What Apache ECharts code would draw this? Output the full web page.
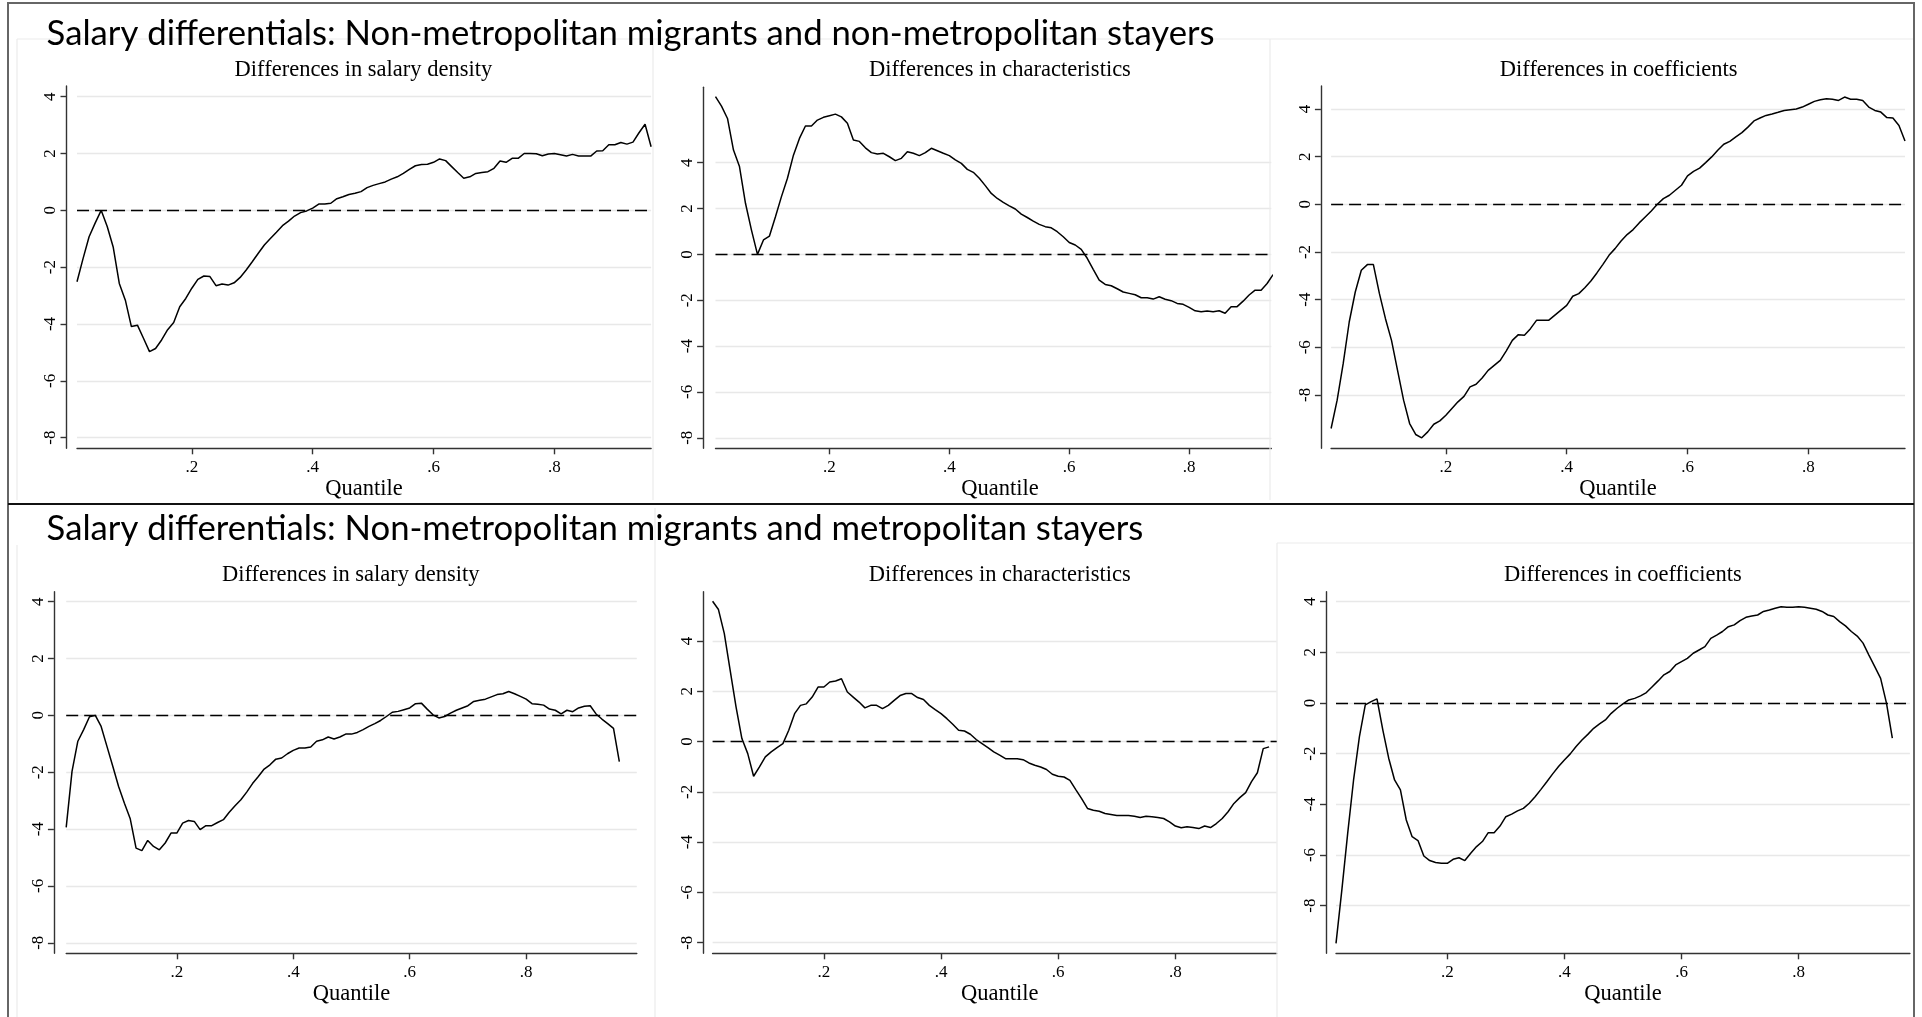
<!DOCTYPE html>
<html><head><meta charset="utf-8">
<script src="https://cdn.jsdelivr.net/npm/echarts@6/dist/echarts.min.js"></script>
<style>html,body{margin:0;padding:0;background:#fff;overflow:hidden}#c{width:1922px;height:1017px}</style>
</head><body><div id="c"></div>
<script>
// ---------- data ----------
const quantiles = [0.01,0.02,0.03,0.04,0.05,0.06,0.07,0.08,0.09,0.10,
0.11,0.12,0.13,0.14,0.15,0.16,0.17,0.18,0.19,0.20,
0.21,0.22,0.23,0.24,0.25,0.26,0.27,0.28,0.29,0.30,
0.31,0.32,0.33,0.34,0.35,0.36,0.37,0.38,0.39,0.40,
0.41,0.42,0.43,0.44,0.45,0.46,0.47,0.48,0.49,0.50,
0.51,0.52,0.53,0.54,0.55,0.56,0.57,0.58,0.59,0.60,
0.61,0.62,0.63,0.64,0.65,0.66,0.67,0.68,0.69,0.70,
0.71,0.72,0.73,0.74,0.75,0.76,0.77,0.78,0.79,0.80,
0.81,0.82,0.83,0.84,0.85,0.86,0.87,0.88,0.89,0.90,
0.91,0.92,0.93,0.94,0.95,0.96];

const xTickValues = [0.2, 0.4, 0.6, 0.8];
const xTickLabels = ['.2', '.4', '.6', '.8'];
const yTickValues = [-8, -6, -4, -2, 0, 2, 4];
const yTickLabels = ['-8', '-6', '-4', '-2', '0', '2', '4'];
const referenceLine = 0;

const mainTitles = [
  'Salary differentials: Non-metropolitan migrants and non-metropolitan stayers',
  'Salary differentials: Non-metropolitan migrants and metropolitan stayers'
];
const panelTitles = ['Differences in salary density', 'Differences in characteristics', 'Differences in coefficients'];
const xAxisTitle = 'Quantile';

// Top row: non-metropolitan migrants vs non-metropolitan stayers
const nonMetroDensity = [-2.51,-1.7,-0.93,-0.45,0.0,-0.57,-1.3,-2.57,-3.16,-4.09,
-4.04,-4.5,-4.97,-4.86,-4.56,-4.2,-3.95,-3.39,-3.1,-2.74,
-2.43,-2.31,-2.33,-2.65,-2.59,-2.63,-2.55,-2.36,-2.1,-1.81,
-1.51,-1.22,-0.99,-0.77,-0.54,-0.38,-0.2,-0.08,-0.02,0.08,
0.22,0.22,0.25,0.41,0.48,0.56,0.6,0.66,0.8,0.88,
0.94,1.0,1.1,1.18,1.3,1.44,1.57,1.61,1.62,1.69,
1.81,1.75,1.54,1.33,1.13,1.18,1.3,1.33,1.36,1.48,
1.74,1.69,1.83,1.83,2.0,2.0,1.99,1.92,1.98,2.0,
1.96,1.91,1.97,1.91,1.91,1.91,2.09,2.1,2.31,2.31,
2.39,2.33,2.4,2.73,3.03,2.24];
const nonMetroCharacteristics = [6.88,6.47,5.93,4.55,3.83,2.23,1.06,0.0,0.63,0.8,
1.64,2.52,3.32,4.33,5.06,5.6,5.6,5.86,5.98,6.05,
6.12,6.0,5.72,4.99,4.93,4.65,4.44,4.38,4.41,4.26,
4.09,4.19,4.48,4.41,4.31,4.44,4.63,4.52,4.41,4.31,
4.12,3.97,3.71,3.58,3.32,3.0,2.66,2.44,2.27,2.12,
1.98,1.76,1.61,1.45,1.31,1.21,1.16,0.99,0.77,0.52,
0.41,0.22,-0.17,-0.65,-1.12,-1.31,-1.37,-1.5,-1.64,-1.7,
-1.76,-1.89,-1.89,-1.95,-1.85,-1.96,-2.02,-2.14,-2.18,-2.31,
-2.46,-2.5,-2.47,-2.5,-2.46,-2.57,-2.28,-2.28,-2.04,-1.77,
-1.56,-1.56,-1.27,-0.88];
const nonMetroCoefficients = [-9.41,-8.22,-6.69,-4.94,-3.68,-2.77,-2.53,-2.53,-3.75,-4.8,
-5.71,-6.97,-8.22,-9.2,-9.66,-9.8,-9.55,-9.23,-9.09,-8.85,
-8.57,-8.29,-8.06,-7.66,-7.55,-7.29,-6.97,-6.76,-6.55,-6.15,
-5.71,-5.47,-5.5,-5.22,-4.87,-4.87,-4.87,-4.66,-4.45,-4.24,
-3.86,-3.75,-3.5,-3.22,-2.88,-2.52,-2.14,-1.86,-1.54,-1.27,
-1.06,-0.78,-0.53,-0.28,0.0,0.24,0.38,0.59,0.8,1.19,
1.38,1.52,1.75,1.99,2.27,2.52,2.64,2.83,3.01,3.24,
3.5,3.62,3.73,3.79,3.86,3.94,3.97,4.0,4.08,4.2,
4.32,4.39,4.43,4.41,4.36,4.5,4.41,4.41,4.36,4.08,
3.94,3.87,3.64,3.62,3.31,2.66];

// Bottom row: non-metropolitan migrants vs metropolitan stayers
const metroDensity = [-3.94,-1.97,-0.91,-0.5,-0.05,0.0,-0.39,-1.09,-1.79,-2.5,
-3.09,-3.64,-4.67,-4.76,-4.4,-4.61,-4.73,-4.49,-4.14,-4.14,
-3.79,-3.7,-3.73,-4.02,-3.88,-3.88,-3.77,-3.67,-3.41,-3.18,
-2.97,-2.7,-2.4,-2.15,-1.89,-1.74,-1.54,-1.5,-1.35,-1.23,
-1.15,-1.15,-1.11,-0.91,-0.86,-0.76,-0.83,-0.76,-0.66,-0.66,
-0.6,-0.5,-0.39,-0.29,-0.18,-0.04,0.11,0.14,0.2,0.26,
0.41,0.43,0.22,0.02,-0.09,-0.04,0.08,0.18,0.26,0.34,
0.49,0.53,0.57,0.65,0.73,0.76,0.84,0.76,0.67,0.57,
0.41,0.39,0.36,0.22,0.18,0.05,0.18,0.13,0.26,0.32,
0.34,0.05,-0.13,-0.29,-0.46,-1.63];
const metroCharacteristics = [5.58,5.25,4.29,2.83,1.38,0.12,-0.48,-1.38,-1.01,-0.61,
-0.41,-0.24,-0.08,0.45,1.11,1.44,1.5,1.77,2.17,2.17,
2.37,2.41,2.5,1.97,1.77,1.57,1.34,1.44,1.44,1.31,
1.44,1.64,1.83,1.91,1.91,1.75,1.67,1.44,1.27,1.11,
0.91,0.69,0.45,0.42,0.29,0.08,-0.08,-0.24,-0.41,-0.54,
-0.68,-0.68,-0.68,-0.72,-0.85,-0.94,-1.01,-1.11,-1.3,-1.38,
-1.41,-1.54,-1.91,-2.27,-2.66,-2.73,-2.77,-2.86,-2.9,-2.94,
-2.94,-2.94,-2.97,-3.02,-2.97,-2.99,-3.02,-3.06,-3.19,-3.36,
-3.43,-3.39,-3.42,-3.46,-3.36,-3.42,-3.26,-3.06,-2.79,-2.46,
-2.23,-2.03,-1.59,-1.24,-0.28,-0.21];
const metroCoefficients = [-9.49,-7.38,-5.14,-3.04,-1.33,-0.08,0.05,0.16,-1.07,-2.18,
-3.04,-3.43,-4.62,-5.28,-5.43,-6.04,-6.22,-6.3,-6.33,-6.33,
-6.17,-6.11,-6.22,-5.93,-5.67,-5.47,-5.12,-5.12,-4.86,-4.49,
-4.39,-4.26,-4.16,-3.96,-3.7,-3.41,-3.11,-2.8,-2.51,-2.25,
-2.01,-1.72,-1.46,-1.24,-1.0,-0.83,-0.67,-0.41,-0.21,-0.04,
0.12,0.18,0.28,0.41,0.64,0.87,1.11,1.24,1.5,1.63,
1.76,1.96,2.09,2.22,2.55,2.68,2.82,3.01,3.08,3.25,
3.38,3.43,3.47,3.61,3.67,3.74,3.8,3.78,3.78,3.8,
3.78,3.74,3.7,3.61,3.47,3.41,3.21,3.04,2.82,2.64,
2.36,1.89,1.43,0.97,-0.01,-1.39];

// ---------- layout (pixels / axis extents) ----------
const panels = [
  {values: nonMetroDensity,         title: 0, left: 77.0,   top: 86.0,  width: 574.1, height: 362.3, xMin: 0.01, xMax: 0.96,  yMin: -8.373, yMax: 4.376, yOffset: 10.5, titleX: 363.4,  titleY: 70.3,  namePad: 0},
  {values: nonMetroCharacteristics, title: 1, left: 715.5,  top: 87.3,  width: 555.8, height: 361.0, xMin: 0.01, xMax: 0.937, yMin: -8.46,  yMax: 7.29,  yOffset: 12.4, titleX: 999.9,  titleY: 70.3,  namePad: 13},
  {values: nonMetroCoefficients,    title: 2, left: 1331.1, top: 86.0,  width: 573.9, height: 362.3, xMin: 0.01, xMax: 0.96,  yMin: -10.24, yMax: 4.965, yOffset: 10.2, titleX: 1618.7, titleY: 70.3,  namePad: 0},
  {values: metroDensity,            title: 0, left: 66.2,   top: 591.7, width: 570.6, height: 361.6, xMin: 0.01, xMax: 0.99,  yMin: -8.37,  yMax: 4.35,  yOffset: 12.3, titleX: 350.8,  titleY: 575.5, namePad: 0},
  {values: metroCharacteristics,    title: 1, left: 712.6,  top: 591.7, width: 564.1, height: 361.6, xMin: 0.01, xMax: 0.973, yMin: -8.42,  yMax: 5.96,  yOffset: 9.5,  titleX: 999.8,  titleY: 575.5, namePad: 10},
  {values: metroCoefficients,       title: 2, left: 1336.0, top: 591.7, width: 573.9, height: 361.6, xMin: 0.01, xMax: 0.99,  yMin: -9.88,  yMax: 4.39,  yOffset: 10.0, titleX: 1622.9, titleY: 575.5, namePad: 0}
];

const SERIF = 'Liberation Serif';
const AXIS_COLOR = '#333';

const grids = [], xAxes = [], yAxes = [], series = [], graphics = [];

panels.forEach((p, i) => {
  grids.push({left: p.left, top: p.top, width: p.width, height: p.height, containLabel: false});
  xAxes.push({
    type: 'value', gridIndex: i, min: p.xMin, max: p.xMax,
    axisLine: {show: true, onZero: false, lineStyle: {color: AXIS_COLOR, width: 1.4}},
    axisTick: {show: true, customValues: xTickValues, length: 6, lineStyle: {color: AXIS_COLOR, width: 1.4}},
    axisLabel: {show: true, customValues: xTickValues, margin: 11,
      formatter: v => xTickLabels[xTickValues.findIndex(t => Math.abs(t - v) < 1e-9)] || '',
      fontFamily: SERIF, fontSize: 17, color: '#000'},
    splitLine: {show: false},
    name: xAxisTitle, nameLocation: 'middle', nameGap: 25,
    nameTextStyle: {fontFamily: SERIF, fontSize: 22.5, color: '#000', padding: [0, 0, 0, p.namePad]}
  });
  yAxes.push({
    type: 'value', gridIndex: i, min: p.yMin, max: p.yMax, offset: p.yOffset,
    axisLine: {show: true, onZero: false, lineStyle: {color: AXIS_COLOR, width: 1.4}},
    axisTick: {show: true, customValues: yTickValues, length: 6, lineStyle: {color: AXIS_COLOR, width: 1.4}},
    axisLabel: {show: true, customValues: yTickValues, rotate: 90, margin: 7,
      formatter: v => yTickLabels[yTickValues.findIndex(t => Math.abs(t - v) < 1e-9)] || '',
      fontFamily: SERIF, fontSize: 17, color: '#000'},
    splitLine: {show: true, lineStyle: {color: '#e8e8e8', width: 1.4}}
  });
  series.push({
    type: 'line', xAxisIndex: i, yAxisIndex: i,
    data: p.values.map((v, k) => [quantiles[k], v]),
    showSymbol: false, symbol: 'none', clip: true,
    lineStyle: {color: '#000', width: 1.5},
    silent: true,
    markLine: {
      silent: true, symbol: 'none', label: {show: false},
      lineStyle: {color: '#000', width: 1.4, type: [12, 6]},
      data: [{yAxis: referenceLine}]
    }
  });
  graphics.push({
    type: 'text', z: 50,
    style: {text: panelTitles[p.title], x: p.titleX, y: p.titleY,
      fontFamily: SERIF, fontSize: 22.5, fill: '#000',
      align: 'center', verticalAlign: 'middle', textAlign: 'center', textVerticalAlign: 'middle'}
  });
});

// main titles
[34, 528.5].forEach((y, r) => {
  graphics.push({
    type: 'text', z: 50,
    style: {text: mainTitles[r], x: 46.6, y: y, fontFamily: 'Lato', fontSize: 34.7, fill: '#000',
      align: 'left', verticalAlign: 'middle', textAlign: 'left', textVerticalAlign: 'middle'}
  });
});

// faint panel region outlines
const faint = {stroke: '#ebebeb', lineWidth: 1.2};
[
  [17, 39, 1914, 39], [17, 39, 17, 500], [653, 39, 653, 500], [1270, 39, 1270, 500],
  [17, 545, 17, 1017], [655, 508, 655, 1017], [1277, 543, 1277, 1017], [1277, 543, 1914, 543]
].forEach(s => graphics.push({type: 'line', z: 1, shape: {x1: s[0], y1: s[1], x2: s[2], y2: s[3]}, style: faint}));

// outer frames
graphics.push({type: 'rect', z: 60, shape: {x: 8, y: 3, width: 1906, height: 1030}, style: {fill: 'none', stroke: '#666', lineWidth: 2}});
graphics.push({type: 'line', z: 60, shape: {x1: 8, y1: 504, x2: 1914, y2: 504}, style: {stroke: '#111', lineWidth: 2}});

const chart = echarts.init(document.getElementById('c'), null, {renderer: 'canvas'});
chart.setOption({
  animation: false,
  backgroundColor: '#fff',
  grid: grids, xAxis: xAxes, yAxis: yAxes, series: series,
  graphic: graphics
});
</script></body></html>
